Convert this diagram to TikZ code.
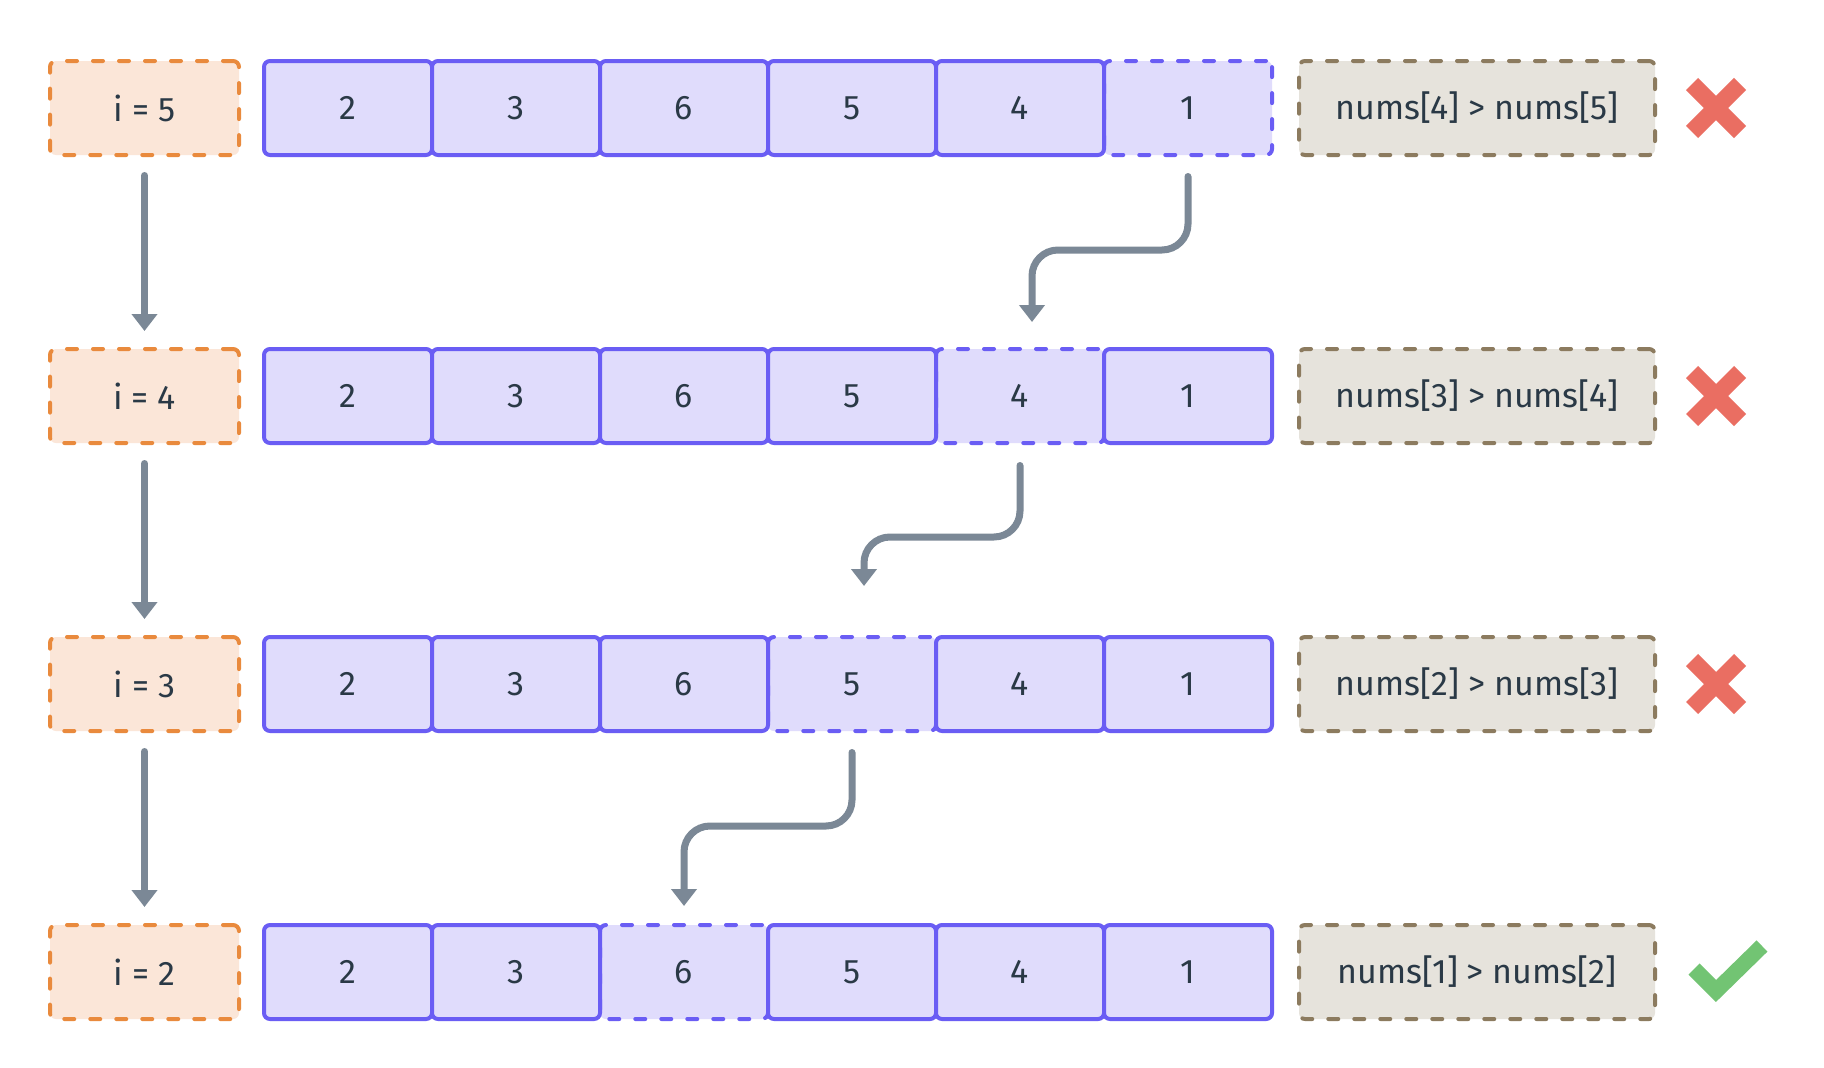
\documentclass[tikz,border=0pt]{standalone}
\usepackage{fontspec}
\setmainfont{Fira Sans}
\usetikzlibrary{arrows.meta,calc}
\definecolor{oB}{HTML}{E98A3D}
\definecolor{oF}{HTML}{FBE6D8}
\definecolor{pB}{HTML}{6A5DF4}
\definecolor{pF}{HTML}{E0DCFC}
\definecolor{gB}{HTML}{8C7B5F}
\definecolor{gF}{HTML}{E6E3DC}
\definecolor{aC}{HTML}{7B8896}
\definecolor{txt}{HTML}{2A3946}
\definecolor{xC}{HTML}{EA6E62}
\definecolor{vC}{HTML}{72C473}
\tikzset{
  base/.style={rectangle, rounded corners=6pt, line width=4pt, minimum height=94pt,
    inner sep=0pt, font=\fontsize{34}{40}\selectfont, text=txt},
  dashbox/.style={dash pattern=on 10pt off 16pt, line cap=round},
  obox/.style={base, draw=oB, fill=oF, dashbox, minimum width=189pt},
  cell/.style={base, draw=pB, fill=pF, minimum width=168pt},
  dcell/.style={cell, dashbox},
  gbox/.style={base, draw=gB, fill=gF, dashbox, minimum width=356pt},
  conn/.style={draw=aC, line width=7pt, line cap=round, rounded corners=26pt,
    -{Triangle[width=25pt,length=17pt]}},
  crossline/.style={draw=xC, line width=17pt},
  checkline/.style={draw=vC, line width=15.6pt, miter limit=10}
}
\begin{document}
\begin{tikzpicture}[x=1pt,y=-1pt]
\fill[white] (0,0) rectangle (1824,1068);
\useasboundingbox (0,0) rectangle (1824,1068);
\foreach \r/\i/\a/\b in {1/5/4/5,2/4/3/4,3/3/2/3,4/2/1/2}{
  \pgfmathsetmacro\yy{108+288*(\r-1)}
  \pgfmathtruncatemacro\dc{7-\r}
  \node[obox] (o\r) at (144.5,\yy) {i = \i};
  \foreach \v [count=\c] in {2,3,6,5,4,1}{
    \ifnum\c=\dc \node[dcell] (r\r c\c) at ({180+168*\c},\yy) {\v};\fi
  }
  \foreach \v [count=\c] in {2,3,6,5,4,1}{
    \ifnum\c=\dc \else \node[cell] (r\r c\c) at ({180+168*\c},\yy) {\v};\fi
  }
  \node[gbox] (g\r) at (1477,\yy) {nums[\a] > nums[\b]};
  \begin{scope}[shift={(1716,\yy)}]
    \ifnum\r<4
      \draw[crossline] (-24,-24) -- (24,24);
      \draw[crossline] (24,-24) -- (-24,24);
    \else
      \draw[checkline] (-22,-3) -- (0,19) -- (46,-26);
    \fi
  \end{scope}
}
\foreach \r [evaluate=\r as \n using int(\r+1)] in {1,2,3}{
  \draw[conn] ($(o\r.south)+(0,18.5)$) -- ($(o\n.north)+(0,-16)$);
}
\draw[conn] ($(r1c6.south)+(0,19.5)$) |- ($(r2c5.north)+(12,-97)$) -- ($(r2c5.north)+(12,-25)$);
\draw[conn] ($(r2c5.south)+(0,20.5)$) |- ($(r3c4.north)+(12,-98)$) -- ($(r3c4.north)+(12,-49)$);
\draw[conn] ($(r3c4.south)+(0,19.5)$) |- ($(r4c3.north)+(0,-97)$) -- ($(r4c3.north)+(0,-17)$);
\end{tikzpicture}
\end{document}
